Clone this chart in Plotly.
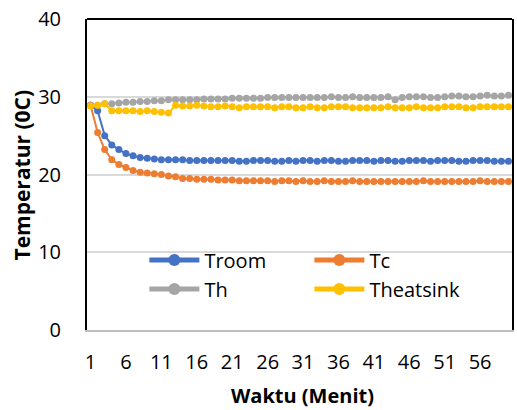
import plotly.graph_objects as go

minutes = list(range(1, 61))
x_tick_vals = [1, 6, 11, 16, 21, 26, 31, 36, 41, 46, 51, 56]
y_tick_vals = [0, 10, 20, 30, 40]

troom = [28.9, 28.2, 25.0, 23.8, 23.2, 22.7, 22.4, 22.2, 22.1, 22.0,
         21.9, 21.9, 21.9, 21.9, 21.8, 21.8, 21.8, 21.8, 21.8, 21.8,
         21.8, 21.7, 21.7, 21.8, 21.8, 21.8, 21.7, 21.7, 21.8, 21.7,
         21.8, 21.8, 21.7, 21.8, 21.8, 21.7, 21.7, 21.8, 21.8, 21.8,
         21.7, 21.8, 21.8, 21.7, 21.7, 21.8, 21.8, 21.8, 21.7, 21.8,
         21.8, 21.8, 21.7, 21.7, 21.8, 21.8, 21.8, 21.7, 21.7, 21.7]
tc = [28.9, 25.4, 23.2, 21.9, 21.3, 20.9, 20.5, 20.3, 20.2, 20.1,
      20.0, 19.8, 19.7, 19.5, 19.5, 19.4, 19.4, 19.4, 19.3, 19.3,
      19.3, 19.2, 19.2, 19.2, 19.2, 19.2, 19.1, 19.2, 19.2, 19.1,
      19.2, 19.1, 19.1, 19.2, 19.1, 19.1, 19.1, 19.2, 19.1, 19.1,
      19.1, 19.1, 19.1, 19.1, 19.1, 19.1, 19.1, 19.2, 19.1, 19.1,
      19.1, 19.1, 19.1, 19.1, 19.1, 19.2, 19.1, 19.1, 19.1, 19.1]
th = [28.9, 28.9, 29.1, 29.1, 29.2, 29.3, 29.3, 29.4, 29.4, 29.5,
      29.5, 29.6, 29.6, 29.6, 29.6, 29.6, 29.7, 29.7, 29.7, 29.7,
      29.8, 29.8, 29.8, 29.8, 29.8, 29.9, 29.9, 29.9, 29.9, 29.9,
      29.9, 29.9, 29.9, 29.9, 30.0, 29.9, 29.9, 30.0, 29.9, 29.9,
      29.9, 29.9, 30.0, 29.6, 29.9, 30.0, 30.0, 30.0, 29.9, 29.9,
      30.0, 30.1, 30.1, 30.0, 30.0, 30.1, 30.2, 30.1, 30.1, 30.2]
theatsink = [28.8, 28.9, 29.1, 28.2, 28.2, 28.2, 28.2, 28.1, 28.2, 28.1,
             28.0, 27.9, 28.9, 28.8, 28.8, 28.9, 28.8, 28.7, 28.7, 28.8,
             28.7, 28.6, 28.7, 28.7, 28.7, 28.7, 28.6, 28.7, 28.7, 28.6,
             28.6, 28.7, 28.6, 28.6, 28.7, 28.7, 28.7, 28.6, 28.6, 28.6,
             28.6, 28.6, 28.7, 28.6, 28.6, 28.6, 28.7, 28.6, 28.6, 28.6,
             28.7, 28.7, 28.7, 28.6, 28.6, 28.7, 28.7, 28.7, 28.7, 28.7]

series = [("Troom", troom, "#4472C4"), ("Tc", tc, "#ED7D31"),
          ("Th", th, "#A5A5A5"), ("Theatsink", theatsink, "#FFC000")]

FONT = "Open Sans, sans-serif"

fig = go.Figure()
for name, vals, col in series:
    fig.add_trace(go.Scatter(x=minutes, y=vals, name=name, mode="lines+markers",
                             line=dict(color=col, width=2),
                             marker=dict(color=col, size=7, symbol="circle")))

fig.update_layout(
    width=517, height=410,
    margin=dict(l=87, r=3, t=19, b=80),
    paper_bgcolor="white", plot_bgcolor="white",
    font=dict(family=FONT, size=20, color="black"),
    showlegend=True,
    legend=dict(orientation="h", x=0.135, y=0.288, xanchor="left", yanchor="top",
                entrywidth=100, entrywidthmode="pixels", bgcolor="rgba(0,0,0,0)",
                itemwidth=50,
                font=dict(family=FONT, size=20, color="black"),
                tracegroupgap=0, itemsizing="constant"),
    xaxis=dict(range=[0.5, 60.5], tickmode="array", tickvals=x_tick_vals,
               showgrid=False, zeroline=False, showline=True, linecolor="#BFBFBF",
               linewidth=1.5, ticks="", ticklabelstandoff=13,
               tickfont=dict(family=FONT, size=20, color="black")),
    yaxis=dict(range=[0, 40], tickmode="array", tickvals=y_tick_vals,
               showgrid=True, gridcolor="#D9D9D9", gridwidth=1.5, zeroline=False,
               showline=True, linecolor="black", linewidth=2, mirror=True,
               ticks="", ticklabelstandoff=20,
               tickfont=dict(family=FONT, size=20, color="black")),
    annotations=[
        dict(text="<b>Waktu (Menit)</b>", xref="paper", yref="paper",
             x=0.506, y=-0.212, xanchor="center", yanchor="middle", showarrow=False,
             font=dict(family=FONT, size=20, color="black")),
        dict(text="<b>Temperatur (0C)</b>", xref="paper", yref="paper",
             x=-0.152, y=0.498, xanchor="center", yanchor="middle", showarrow=False,
             textangle=-90, font=dict(family=FONT, size=21, color="black")),
    ],
    shapes=[dict(type="line", xref="paper", yref="paper", x0=0, x1=1, y0=1, y1=1,
                 line=dict(color="black", width=2))],
)

fig.write_html("out.html", config={"displayModeBar": False},
               post_script="document.body.style.margin='0';")
